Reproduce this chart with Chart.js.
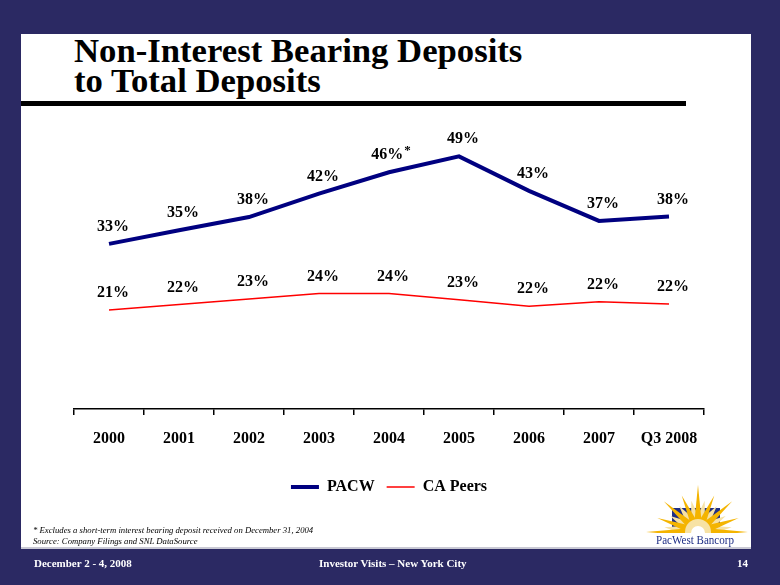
<!DOCTYPE html>
<html><head><meta charset="utf-8">
<script src="https://cdn.jsdelivr.net/npm/chart.js@4.4.1/dist/chart.umd.min.js"></script>
<style>
html,body{margin:0;padding:0;}
body{width:780px;height:585px;background:#2b2963;position:relative;overflow:hidden;font-family:"Liberation Serif","Times New Roman",serif;}
#panel{position:absolute;left:21px;top:34px;width:730px;height:513px;background:#fff;border-bottom:2px solid #c9c9d4;}
#title{position:absolute;left:74px;top:36px;font-weight:bold;font-size:34.7px;line-height:30px;color:#000;white-space:nowrap}
#bar{position:absolute;left:21px;top:101px;width:665px;height:5px;background:#000;}
#cv{position:absolute;left:0;top:0;}
#notes{position:absolute;left:33px;top:525px;font-style:italic;font-size:8.7px;line-height:11px;color:#000;white-space:nowrap}
.foot{position:absolute;top:557px;font-weight:bold;font-size:11px;line-height:13px;color:#fff;white-space:nowrap}
#logo{position:absolute;left:640px;top:480px;}
#logotext{position:absolute;left:656px;top:532px;font-size:13px;color:#1f2f86;white-space:nowrap;transform-origin:0 0;transform:scaleX(0.85)}
</style></head>
<body>
<div id="panel"></div>
<div id="title">Non-Interest Bearing Deposits<br>to Total Deposits</div>
<div id="bar"></div>
<canvas id="cv" width="780" height="585"></canvas>
<div id="notes">* Excludes a short-term interest bearing deposit received on December 31, 2004<br>Source: Company Filings and SNL DataSource</div>
<svg id="logo" width="116" height="56" viewBox="0 0 116 56">
  <defs><clipPath id="half"><rect x="0" y="0" width="116" height="53"/></clipPath></defs>
  <g clip-path="url(#half)">
    <rect x="32" y="28" width="48" height="25" fill="#1f2f86"/>
    <g id="cream" fill="#f7e2a4"></g>
    <g id="gold" fill="#f4b400"></g>
    <circle cx="58" cy="52" r="13" fill="#f7e2a4"/>
    <circle cx="58" cy="53" r="7" fill="#ffffff"/>
  </g>
</svg>
<div id="logotext">PacWest Bancorp</div>
<div class="foot" style="left:34px">December 2 - 4, 2008</div>
<div class="foot" style="left:319px">Investor Visits – New York City</div>
<div class="foot" style="left:737px">14</div>
<script>
// logo rays (decoration)
(function(){
  const cx = 58, cy = 52;
  function ray(g, a, len, hw) {
    const r = a * Math.PI / 180, r0 = 6;
    const tip = [cx + len * Math.cos(r), cy - len * Math.sin(r)];
    const px = -Math.sin(r) * hw, py = -Math.cos(r) * hw;
    const bx = cx + r0 * Math.cos(r), by = cy - r0 * Math.sin(r);
    const p = document.createElementNS('http://www.w3.org/2000/svg', 'polygon');
    p.setAttribute('points', `${tip[0]},${tip[1]} ${bx+px},${by+py} ${bx-px},${by-py}`);
    g.appendChild(p);
  }
  const gold = document.getElementById('gold'), cream = document.getElementById('cream');
  [[78,32],[102,32],[54,32],[126,32],[30,32],[150,32],[8,34],[172,34]].forEach(([a,l]) => ray(cream, a, l, 6));
  [[90,47],[66,40],[114,40],[42,46],[138,46],[19,43],[161,43],[0,50],[180,52]].forEach(([a,l]) => ray(gold, a, l, 4));
})();

const categories = ['2000','2001','2002','2003','2004','2005','2006','2007','Q3 2008'];
const pacwValues = [32.9, 35.4, 37.8, 42.1, 46.0, 48.9, 42.6, 37.1, 37.9];
const peersValues = [20.8, 21.8, 22.8, 23.8, 23.8, 22.7, 21.5, 22.3, 21.9];
const pacwNotes = ['', '', '', '', '*', '', '', '', ''];
const peersNotes = ['', '', '', '', '', '', '', '', ''];

const labelFont = 'bold 16px "Liberation Serif", "Times New Roman", serif';
const noteFont = 'bold 13px "Liberation Serif", "Times New Roman", serif';
const dataLabels = {
  id: 'dataLabels',
  afterDatasetsDraw(chart) {
    const ctx = chart.ctx;
    ctx.save();
    ctx.fillStyle = '#000';
    ctx.textBaseline = 'middle';
    chart.data.datasets.forEach((ds, di) => {
      const meta = chart.getDatasetMeta(di);
      meta.data.forEach((pt, i) => {
        const txt = Math.round(ds.data[i]) + '%';
        const note = ds.notes[i];
        ctx.font = labelFont;
        const w = ctx.measureText(txt).width;
        let nw = 0;
        if (note) { ctx.font = noteFont; nw = ctx.measureText(note).width + 1; }
        const y = pt.y - 17;
        const left = pt.x + (note ? 2 : 4) - (w + nw) / 2;
        ctx.font = labelFont;
        ctx.textAlign = 'left';
        ctx.fillText(txt, left, y);
        if (note) {
          ctx.font = noteFont;
          ctx.fillText(note, left + w + 1, y - 5);
        }
      });
    });
    ctx.restore();
  }
};

new Chart(document.getElementById('cv'), {
  type: 'line',
  data: {
    labels: categories,
    datasets: [
      {label: 'PACW', data: pacwValues, notes: pacwNotes, borderColor: '#000080', backgroundColor: '#000080', borderWidth: 4, pointRadius: 0, tension: 0},
      {label: 'CA Peers', data: peersValues, notes: peersNotes, borderColor: '#ff0000', backgroundColor: '#ff0000', borderWidth: 1.5, pointRadius: 0, tension: 0}
    ]
  },
  options: {
    responsive: false,
    animation: false,
    layout: {padding: {left: 74, right: 76, top: 123, bottom: 80}},
    scales: {
      x: {
        offset: true,
        grid: {offset: true, drawOnChartArea: false, drawTicks: true, tickLength: 6, color: '#000', lineWidth: 1.5},
        border: {display: true, color: '#000', width: 1.5},
        ticks: {color: '#000', padding: 14, font: {family: '"Liberation Serif", "Times New Roman", serif', weight: 'bold', size: 16}, maxRotation: 0, autoSkip: false},
        afterFit(s) { s.height = 58; }
      },
      y: {display: false, min: 2.7, max: 55}
    },
    plugins: {
      tooltip: {enabled: false},
      legend: {
        position: 'bottom',
        labels: {
          usePointStyle: true,
          pointStyleWidth: 28,
          padding: 12,
          color: '#000',
          font: {family: '"Liberation Serif", "Times New Roman", serif', weight: 'bold', size: 16},
          generateLabels(chart) {
            return chart.data.datasets.map((ds, i) => ({
              text: ds.label, strokeStyle: ds.borderColor, fillStyle: ds.borderColor,
              lineWidth: ds.borderWidth, pointStyle: 'line', hidden: false, datasetIndex: i, fontColor: '#000'
            }));
          }
        }
      }
    }
  },
  plugins: [dataLabels]
});
</script>
</body></html>
